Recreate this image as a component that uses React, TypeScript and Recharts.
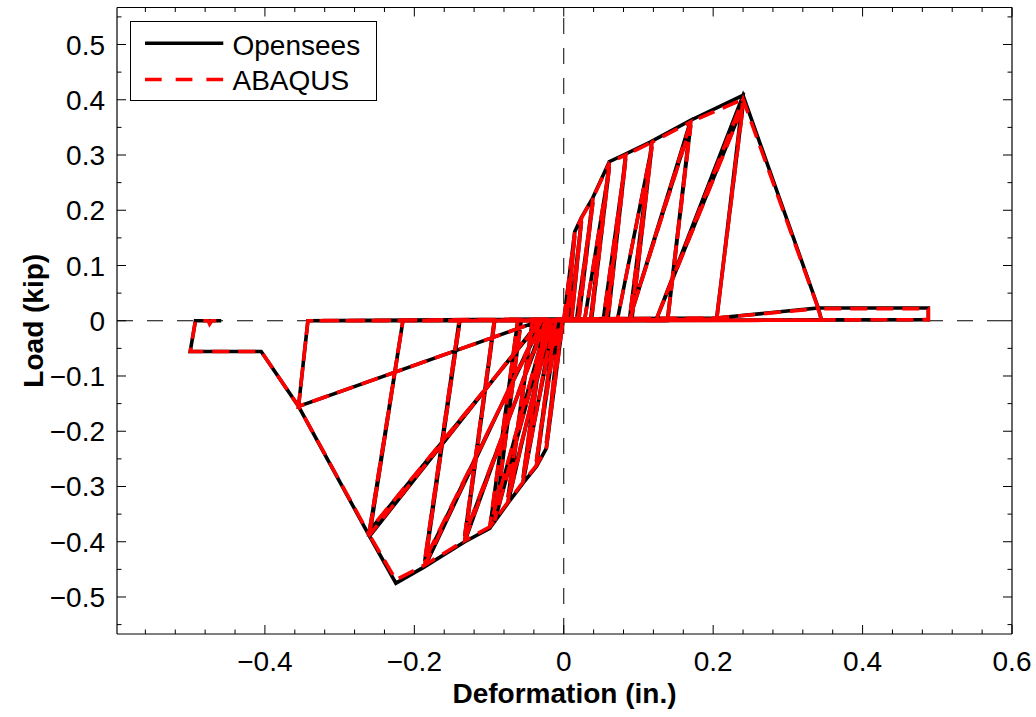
import React from 'react';
import { LineChart, Line, XAxis, YAxis, ReferenceLine, Label, Legend } from 'recharts';

const FONT = '"Liberation Sans", Arial, Helvetica, sans-serif';

// axis ticks (MATLAB style, inner ticks on all four sides)
const xMajor = [-0.4, -0.2, 0, 0.2, 0.4, 0.6];
const xLabels = ['\u22120.4', '\u22120.2', '0', '0.2', '0.4', '0.6'];
const xMinor = [-0.56, -0.52, -0.48, -0.44, -0.36, -0.32, -0.28, -0.24, -0.16, -0.12, -0.08, -0.04,
  0.04, 0.08, 0.12, 0.16, 0.24, 0.28, 0.32, 0.36, 0.44, 0.48, 0.52, 0.56];
const yMajor = [-0.5, -0.4, -0.3, -0.2, -0.1, 0, 0.1, 0.2, 0.3, 0.4, 0.5];
const yLabels = ['\u22120.5', '\u22120.4', '\u22120.3', '\u22120.2', '\u22120.1', '0', '0.1', '0.2', '0.3', '0.4', '0.5'];
const yMinor = [-0.55, -0.45, -0.35, -0.25, -0.15, -0.05, 0.05, 0.15, 0.25, 0.35, 0.45, 0.55];

// Opensees response, [deformation (in.), load (kip)] in loading order
const opensees: [number, number][] = [
  [0, 0], [0.0147, 0.161], [0.0036, 0], [-0.002, 0], [-0.0232, -0.2307], [-0.001, 0],
  [0.003, 0], [0.0147, 0.154], [0.004, 0], [-0.003, 0], [-0.0232, -0.222], [-0.002, 0],
  [0.004, 0.002], [0.0147, 0.161], [0.0237, 0.187], [0.0103, 0], [-0.005, 0], [-0.0232, -0.2307], [-0.0366, -0.264], [-0.0102, 0],
  [0.008, 0.002], [0.0237, 0.18], [0.0105, 0], [-0.008, 0], [-0.0366, -0.255], [-0.011, 0],
  [0.0103, 0.002], [0.0237, 0.187], [0.039, 0.223], [0.019, 0], [-0.01, 0], [-0.0366, -0.264], [-0.0545, -0.294], [-0.025, 0],
  [0.017, 0.002], [0.039, 0.215], [0.02, 0], [-0.012, 0], [-0.0545, -0.285], [-0.026, 0],
  [0.019, 0.003], [0.039, 0.223], [0.061, 0.288], [0.036, 0], [-0.014, 0], [-0.0545, -0.294], [-0.0746, -0.33], [-0.0416, 0],
  [0.028, 0.002], [0.061, 0.278], [0.037, 0], [-0.016, 0], [-0.0746, -0.32], [-0.042, 0],
  [0.036, 0.003], [0.061, 0.288], [0.083, 0.302], [0.057, 0], [-0.018, 0], [-0.0746, -0.33], [-0.099, -0.3756], [-0.0616, 0],
  [0.053, 0.003], [0.083, 0.294], [0.059, 0], [-0.02, 0], [-0.0924, -0.3636], [-0.057, 0],
  [0.057, 0.003], [0.083, 0.302], [0.118, 0.325], [0.09, 0], [-0.022, 0], [-0.099, -0.3756], [-0.1326, -0.4], [-0.0924, 0],
  [0.072, 0.003], [0.118, 0.316], [0.091, 0], [-0.024, 0], [-0.1326, -0.39], [-0.093, 0],
  [0.088, 0.003], [0.118, 0.325], [0.17, 0.363], [0.1387, 0], [-0.026, 0], [-0.1326, -0.4], [-0.186, -0.445], [-0.139, 0],
  [0.088, 0.003], [0.17, 0.355], [0.139, 0], [-0.028, 0], [-0.186, -0.435], [-0.14, 0],
  [0.088, 0.003], [0.17, 0.363], [0.24, 0.408], [0.2048, 0.003], [-0.03, 0], [-0.186, -0.445], [-0.2247, -0.475], [-0.26, -0.39], [-0.2153, 0],
  [0.124, 0.003], [0.24, 0.39], [0.2045, 0.003], [-0.03, 0], [-0.26, -0.38], [-0.2153, 0],
  [0.124, 0.003], [0.24, 0.408], [0.3407, 0.023], [0.345, 0.001], [-0.032, 0], [-0.26, -0.39], [-0.355, -0.155], [-0.3425, 0],
  [0.2045, 0.005], [0.3407, 0.023], [0.345, 0.001], [-0.032, 0], [-0.355, -0.155], [-0.3425, 0],
  [0.345, 0.001], [0.3407, 0.023], [0.488, 0.023], [0.488, 0.002], [-0.032, 0], [-0.355, -0.155],
  [-0.405, -0.0556], [-0.5, -0.0556], [-0.493, 0], [-0.4585, 0],
];

// ABAQUS response, same protocol
const abaqus: [number, number][] = [
  [0, 0], [0.0147, 0.16], [0.0036, 0], [-0.002, 0], [-0.0232, -0.229], [-0.001, 0],
  [0.003, 0], [0.0147, 0.153], [0.004, 0], [-0.003, 0], [-0.0232, -0.221], [-0.002, 0],
  [0.004, 0.002], [0.0147, 0.16], [0.0237, 0.186], [0.0103, 0], [-0.005, 0], [-0.0232, -0.229], [-0.0366, -0.262], [-0.0102, 0],
  [0.008, 0.002], [0.0237, 0.179], [0.0105, 0], [-0.008, 0], [-0.0366, -0.254], [-0.011, 0],
  [0.0103, 0.002], [0.0237, 0.186], [0.039, 0.222], [0.019, 0], [-0.01, 0], [-0.0366, -0.262], [-0.0545, -0.292], [-0.025, 0],
  [0.017, 0.002], [0.039, 0.214], [0.02, 0], [-0.012, 0], [-0.0545, -0.284], [-0.026, 0],
  [0.019, 0.003], [0.039, 0.222], [0.061, 0.286], [0.036, 0], [-0.014, 0], [-0.0545, -0.292], [-0.0746, -0.328], [-0.0416, 0],
  [0.028, 0.002], [0.061, 0.277], [0.037, 0], [-0.016, 0], [-0.0746, -0.319], [-0.042, 0],
  [0.036, 0.003], [0.061, 0.286], [0.083, 0.3], [0.057, 0], [-0.018, 0], [-0.0746, -0.328], [-0.099, -0.373], [-0.0616, 0],
  [0.053, 0.003], [0.083, 0.293], [0.059, 0], [-0.02, 0], [-0.0924, -0.362], [-0.057, 0],
  [0.057, 0.003], [0.083, 0.3], [0.118, 0.323], [0.09, 0], [-0.022, 0], [-0.099, -0.373], [-0.1326, -0.398], [-0.0924, 0],
  [0.072, 0.003], [0.118, 0.315], [0.091, 0], [-0.024, 0], [-0.1326, -0.389], [-0.093, 0],
  [0.088, 0.003], [0.118, 0.323], [0.17, 0.36], [0.1387, 0], [-0.026, 0], [-0.1326, -0.398], [-0.186, -0.442], [-0.139, 0],
  [0.088, 0.003], [0.17, 0.353], [0.139, 0], [-0.028, 0], [-0.186, -0.433], [-0.14, 0],
  [0.088, 0.003], [0.17, 0.36], [0.24, 0.401], [0.2048, 0.003], [-0.03, 0], [-0.186, -0.442], [-0.2247, -0.469], [-0.26, -0.388], [-0.2153, 0],
  [0.124, 0.003], [0.24, 0.388], [0.2045, 0.003], [-0.03, 0], [-0.26, -0.379], [-0.2153, 0],
  [0.124, 0.003], [0.24, 0.401], [0.3407, 0.022], [0.345, 0.001], [-0.032, 0], [-0.26, -0.388], [-0.355, -0.155], [-0.3425, 0],
  [0.2045, 0.005], [0.3407, 0.022], [0.345, 0.001], [-0.032, 0], [-0.355, -0.155], [-0.3425, 0],
  [0.345, 0.001], [0.3407, 0.022], [0.488, 0.022], [0.488, 0.002], [-0.032, 0], [-0.355, -0.155],
  [-0.405, -0.0556], [-0.5, -0.0556], [-0.493, 0], [-0.476, 0], [-0.474, -0.006], [-0.471, 0], [-0.4585, 0],
];

const toRows = (pts: [number, number][]) => pts.map(([x, y]) => ({ x, y }));

const xTicks = [...xMajor, ...xMinor].sort((a, b) => a - b);
const yTicks = [...yMajor, ...yMinor].sort((a, b) => a - b);
const majorIndex = (list: number[], v: number) => list.findIndex((m) => Math.abs(m - v) < 1e-9);

const MAJOR = 9;
const MINOR = 4.5;

const BottomTick = (props: any) => {
  const { x, y, payload } = props;
  const i = majorIndex(xMajor, payload.value);
  return (
    <g>
      <line x1={x} x2={x} y1={y} y2={y - (i >= 0 ? MAJOR : MINOR)} stroke="#000" strokeWidth={1} />
      {i >= 0 && (
        <text x={x} y={y + 37} textAnchor="middle" fontSize={28} fontFamily={FONT} fill="#000">
          {xLabels[i]}
        </text>
      )}
    </g>
  );
};

const TopTick = (props: any) => {
  const { x, y, payload } = props;
  const len = majorIndex(xMajor, payload.value) >= 0 ? MAJOR : MINOR;
  return <line x1={x} x2={x} y1={y} y2={y + len} stroke="#000" strokeWidth={1} />;
};

const LeftTick = (props: any) => {
  const { x, y, payload } = props;
  const i = majorIndex(yMajor, payload.value);
  return (
    <g>
      <line x1={x} x2={x + (i >= 0 ? MAJOR : MINOR)} y1={y} y2={y} stroke="#000" strokeWidth={1} />
      {i >= 0 && (
        <text x={x - 12} y={y + 10} textAnchor="end" fontSize={28} fontFamily={FONT} fill="#000">
          {yLabels[i]}
        </text>
      )}
    </g>
  );
};

const RightTick = (props: any) => {
  const { x, y, payload } = props;
  const len = majorIndex(yMajor, payload.value) >= 0 ? MAJOR : MINOR;
  return <line x1={x} x2={x - len} y1={y} y2={y} stroke="#000" strokeWidth={1} />;
};

const LegendBox = () => (
  <svg width={248} height={81} style={{ display: 'block' }}>
    <rect x={0.5} y={0.5} width={246} height={79} fill="#fff" stroke="#000" strokeWidth={1} />
    <line x1={15} x2={93.3} y1={22.2} y2={22.2} stroke="#000" strokeWidth={3.6} />
    <text x={102.5} y={33.5} fontSize={28} fontFamily={FONT} fill="#000">Opensees</text>
    <line x1={15} x2={93.3} y1={58.5} y2={58.5} stroke="#ff0000" strokeWidth={3.6} strokeDasharray="16.7 14" />
    <text x={102.5} y={68.5} fontSize={28} fontFamily={FONT} fill="#000">ABAQUS</text>
  </svg>
);

const App = () => {
  const axisLine = { stroke: '#000', strokeWidth: 1.2 };
  return (
    <div style={{ position: 'absolute', left: 0, top: 0, width: 1036, height: 717, background: '#fff' }}>
      <LineChart width={1036} height={717} margin={{ top: 6.5, right: 23, bottom: 82, left: 116 }}>
        <XAxis
          xAxisId="b" type="number" dataKey="x" domain={[-0.598, 0.6]} allowDataOverflow
          ticks={xTicks} interval={0} height={1} tickSize={0} tickMargin={0} tickLine={false}
          axisLine={axisLine} tick={BottomTick}
        >
          <Label
            content={(p: any) => (
              <text x={p.viewBox.x + p.viewBox.width / 2} y={p.viewBox.y + 69} textAnchor="middle"
                fontSize={28} fontWeight="bold" fontFamily={FONT} fill="#000">
                Deformation (in.)
              </text>
            )}
          />
        </XAxis>
        <XAxis
          xAxisId="t" orientation="top" type="number" dataKey="x" domain={[-0.598, 0.6]} allowDataOverflow
          ticks={xTicks} interval={0} height={1} tickSize={0} tickMargin={0} tickLine={false}
          axisLine={axisLine} tick={TopTick}
        />
        <YAxis
          yAxisId="l" type="number" dataKey="y" domain={[-0.567, 0.567]} allowDataOverflow
          ticks={yTicks} interval={0} width={1} tickSize={0} tickMargin={0} tickLine={false}
          axisLine={axisLine} tick={LeftTick}
        >
          <Label
            content={(p: any) => {
              const cx = p.viewBox.x + p.viewBox.width - 74;
              const cy = p.viewBox.y + p.viewBox.height / 2;
              return (
                <text x={cx} y={cy} transform={`rotate(-90, ${cx}, ${cy})`} textAnchor="middle"
                  fontSize={28} fontWeight="bold" fontFamily={FONT} fill="#000">
                  Load (kip)
                </text>
              );
            }}
          />
        </YAxis>
        <YAxis
          yAxisId="r" orientation="right" type="number" domain={[-0.567, 0.567]} allowDataOverflow
          ticks={yTicks} interval={0} width={1} tickSize={0} tickMargin={0} tickLine={false}
          axisLine={axisLine} tick={RightTick}
        />
        <ReferenceLine xAxisId="b" yAxisId="l" x={0} stroke="#000" strokeWidth={1} strokeDasharray="16 14" />
        <ReferenceLine xAxisId="b" yAxisId="l" y={0} stroke="#000" strokeWidth={1} strokeDasharray="16 14" />
        <Legend
          layout="vertical" align="center" verticalAlign="middle"
          content={() => <LegendBox />}
          wrapperStyle={{ left: 130, top: 20.5, width: 248, height: 81 }}
        />
        <Line
          xAxisId="b" yAxisId="l" data={toRows(opensees)} dataKey="y" name="Opensees" type="linear"
          stroke="#000" strokeWidth={3.6} dot={false} activeDot={false} isAnimationActive={false}
        />
        <Line
          xAxisId="b" yAxisId="l" data={toRows(abaqus)} dataKey="y" name="ABAQUS" type="linear"
          stroke="#ff0000" strokeWidth={3.6} strokeDasharray="17 9" dot={false} activeDot={false}
          isAnimationActive={false}
        />
      </LineChart>
    </div>
  );
};

export default App;
